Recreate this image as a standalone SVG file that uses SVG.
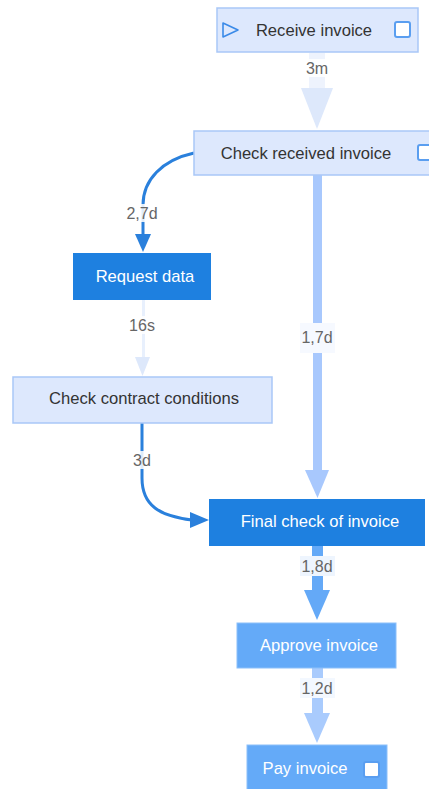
<svg xmlns="http://www.w3.org/2000/svg" width="429" height="789" viewBox="0 0 429 789">
<style>
.lt{fill:#dde8fd;stroke:#a9c7f7;stroke-width:1.5}
.dk{fill:#1e80e0}
.md{fill:#64aaf8;stroke:#8cc0fa;stroke-width:1}
.t{font-family:"Liberation Sans",Arial,sans-serif;font-size:16.6px;text-anchor:middle;dominant-baseline:central}
.tb{fill:#333}
.tw{fill:#ffffff}
.lb{font-family:"Liberation Sans",Arial,sans-serif;font-size:16px;fill:#666;text-anchor:middle;dominant-baseline:central}
.lbg{fill:#ffffff;fill-opacity:0.85}
.cb{fill:#ffffff;stroke:#5a9ef0;stroke-width:2}
</style>
<rect width="429" height="789" fill="#ffffff"/>
<g id="connectors">
  <!-- 3m -->
  <rect x="309" y="53" width="16" height="37" fill="#eef3fd"/>
  <polygon points="301,88 333,88 317,129" fill="#dde8fb"/>
  <rect class="lbg" x="302" y="59" width="30" height="18"/>
  <text class="lb" x="317" y="68">3m</text>
  <!-- 2,7d -->
  <path d="M194,153 C162,160 143,180 143,205 L143,236" fill="none" stroke="#2a80dc" stroke-width="3"/>
  <polygon points="135,234 151,234 143,252" fill="#2a80dc"/>
  <rect class="lbg" x="124" y="204" width="38" height="18"/>
  <text class="lb" x="142" y="213">2,7d</text>
  <!-- 16s -->
  <rect x="142" y="300" width="3" height="60" fill="#e8f0fd"/>
  <polygon points="135,357 150,357 142.5,376" fill="#dde8fb"/>
  <rect class="lbg" x="128" y="316" width="30" height="18"/>
  <text class="lb" x="142" y="325">16s</text>
  <!-- 1,7d -->
  <rect x="313" y="175" width="9" height="297" fill="#a8c8fd"/>
  <polygon points="305,470 329,470 317.5,498" fill="#a8c8fd"/>
  <rect x="300" y="323" width="35" height="30" fill="#f6f9ff"/>
  <text class="lb" x="317" y="337">1,7d</text>
  <!-- 3d -->
  <path d="M142,423 L142,478 C142,506 160,516 192,520" fill="none" stroke="#2a80dc" stroke-width="3"/>
  <polygon points="190,512 209,520 190,528" fill="#2a80dc"/>
  <rect class="lbg" x="128" y="451" width="28" height="18"/>
  <text class="lb" x="142" y="460">3d</text>
  <!-- 1,8d -->
  <rect x="312" y="546" width="11" height="46" fill="#64a9f7"/>
  <polygon points="304,590 330,590 317,620" fill="#64a9f7"/>
  <rect x="300" y="556" width="35" height="20" fill="#eef5fe"/>
  <text class="lb" x="317" y="566">1,8d</text>
  <!-- 1,2d -->
  <rect x="312" y="668" width="11" height="47" fill="#a9cbfd"/>
  <polygon points="304,713 330,713 317,743" fill="#a9cbfd"/>
  <rect x="300" y="678" width="35" height="20" fill="#f3f8ff"/>
  <text class="lb" x="317" y="688">1,2d</text>
</g>
<g id="receive-invoice">
  <rect class="lt" x="217" y="8" width="201" height="44"/>
  <polygon points="223,23 238,30 223,37" fill="none" stroke="#3a8ae8" stroke-width="1.6" stroke-linejoin="round"/>
  <text class="t tb" x="314" y="30">Receive invoice</text>
  <rect class="cb" x="395" y="22" width="15" height="15" rx="2"/>
</g>
<g id="check-received-invoice">
  <rect class="lt" x="194" y="131" width="247" height="44"/>
  <text class="t tb" x="306" y="153">Check received invoice</text>
  <rect class="cb" x="418" y="145" width="15" height="15" rx="2"/>
</g>
<g id="request-data">
  <rect class="dk" x="73" y="253" width="138" height="47"/>
  <text class="t tw" x="145" y="276">Request data</text>
</g>
<g id="check-contract-conditions">
  <rect class="lt" x="13" y="377" width="259" height="46"/>
  <text class="t tb" x="144" y="398">Check contract conditions</text>
</g>
<g id="final-check-of-invoice">
  <rect class="dk" x="209" y="499" width="216" height="47"/>
  <text class="t tw" x="320" y="521">Final check of invoice</text>
</g>
<g id="approve-invoice">
  <rect class="md" x="237" y="623" width="159" height="45"/>
  <text class="t tw" x="319" y="645">Approve invoice</text>
</g>
<g id="pay-invoice">
  <rect class="md" x="247" y="745" width="140" height="50"/>
  <text class="t tw" x="305" y="768">Pay invoice</text>
  <rect class="cb" x="364" y="762" width="15" height="15" rx="2" stroke="#4a94ec"/>
</g>
</svg>
